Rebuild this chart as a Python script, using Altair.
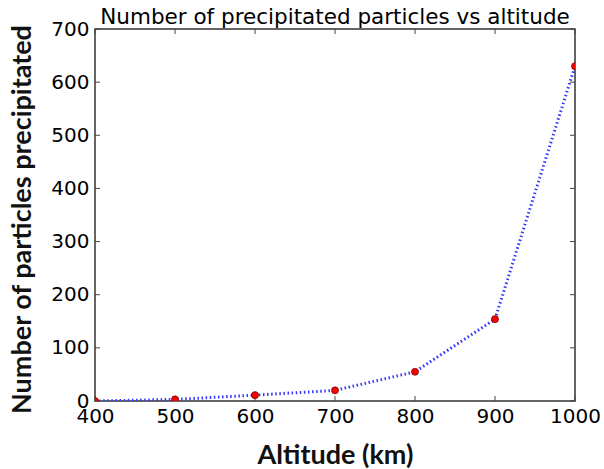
import altair as alt
import pandas as pd

title_text = ["Number of precipitated particles vs altitude"]
altitude = [400, 500, 600, 700, 800, 900, 1000]
particles = [0, 3, 11, 20, 55, 154, 630]
x_ticks = [400, 500, 600, 700, 800, 900, 1000]
y_ticks = [0, 100, 200, 300, 400, 500, 600, 700]

df = pd.DataFrame({"altitude": altitude, "particles": particles})
xt = pd.DataFrame({"v": x_ticks})
yt = pd.DataFrame({"v": y_ticks})
tt = pd.DataFrame({"t": title_text})

W, H = 480, 372
xs = alt.Scale(domain=[400, 1000], nice=False, zero=False)
ys = alt.Scale(domain=[0, 700], nice=False)

x_axis = alt.Axis(values=x_ticks, format="d", title="Altitude (km)", grid=False, domain=False,
                  tickSize=0, labelPadding=5, labelFont="DejaVu Sans", labelFontSize=20,
                  labelColor="black", labelFlush=False, labelOverlap=False,
                  titleFont="Lato", titleFontSize=27, titleFontWeight="bold",
                  titleColor="#111", titleBaseline="alphabetic", titleY=62)
y_axis = alt.Axis(values=y_ticks, format="d", title="Number of particles precipitated",
                  grid=False, domain=False, tickSize=0, labelPadding=6,
                  labelFont="DejaVu Sans", labelFontSize=20, labelColor="black",
                  labelFlush=False, labelOverlap=False,
                  titleFont="Lato", titleFontSize=27, titleFontWeight="bold",
                  titleColor="#111", titleBaseline="alphabetic", titleX=-65, titleY=H / 2 + 4,
                  titleAngle=270)

line = alt.Chart(df).mark_line(color="#3535ff", strokeWidth=3, strokeDash=[1.5, 2.6],
                               clip=True).encode(
    x=alt.X("altitude:Q", scale=xs, axis=x_axis),
    y=alt.Y("particles:Q", scale=ys, axis=y_axis),
)
pts = alt.Chart(df).mark_point(filled=True, fill="#ff0000", stroke="#330000", strokeWidth=0.6,
                               size=50, opacity=1, clip=True).encode(
    x=alt.X("altitude:Q", scale=xs),
    y=alt.Y("particles:Q", scale=ys),
)

tick_color = "#444"
left_ticks = alt.Chart(yt).mark_rule(color=tick_color, strokeWidth=1).encode(
    y=alt.Y("v:Q", scale=ys), x=alt.value(0), x2=alt.value(5))
right_ticks = alt.Chart(yt).mark_rule(color=tick_color, strokeWidth=1).encode(
    y=alt.Y("v:Q", scale=ys), x=alt.value(W - 5), x2=alt.value(W))
bottom_ticks = alt.Chart(xt).mark_rule(color=tick_color, strokeWidth=1).encode(
    x=alt.X("v:Q", scale=xs), y=alt.value(H - 5), y2=alt.value(H))
top_ticks = alt.Chart(xt).mark_rule(color=tick_color, strokeWidth=1).encode(
    x=alt.X("v:Q", scale=xs), y=alt.value(0), y2=alt.value(5))

title = alt.Chart(tt).mark_text(font="DejaVu Sans", fontSize=21.5, color="black",
                                align="center", baseline="alphabetic").encode(
    text="t:N", x=alt.value(W / 2), y=alt.value(-5))

chart = alt.layer(left_ticks, right_ticks, bottom_ticks, top_ticks, line, pts, title).properties(
    width=W, height=H,
    background="white",
    autosize=alt.AutoSizeParams(type="none"),
    padding={"left": 95, "top": 29, "right": 29, "bottom": 68},
).configure_view(stroke="#333", strokeWidth=1.5)

chart.save("out.html", embed_options={"renderer": "svg", "actions": False})
